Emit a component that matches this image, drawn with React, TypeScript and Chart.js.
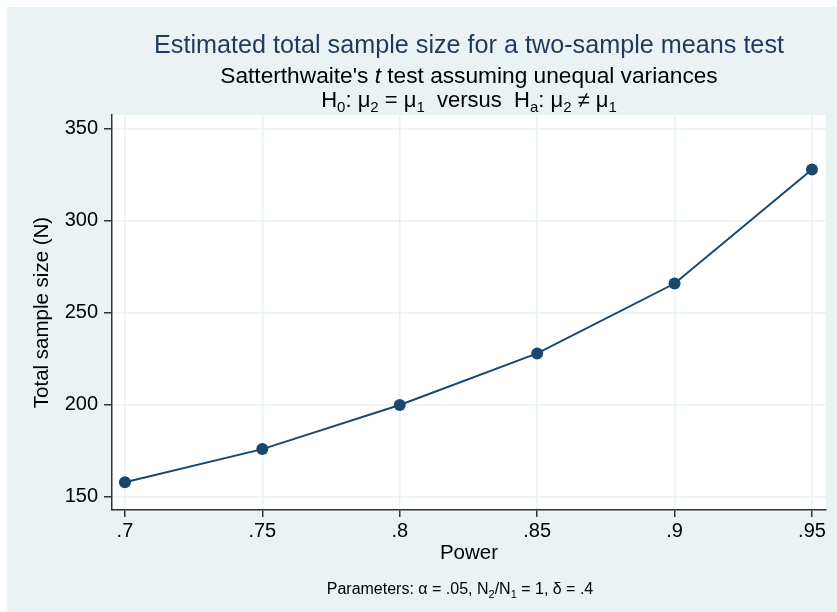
import React, { useEffect, useRef } from 'react';
import { Chart, registerables } from 'chart.js';
Chart.register(...registerables);

// ---- data ----
const power = [0.7, 0.75, 0.8, 0.85, 0.9, 0.95];
const totalSampleSize = [158, 176, 200, 228, 266, 328];
const xTickValues = [0.7, 0.75, 0.8, 0.85, 0.9, 0.95];
const xTickLabels = ['.7', '.75', '.8', '.85', '.9', '.95'];
const yTickValues = [150, 200, 250, 300, 350];
const yTickLabels = ['150', '200', '250', '300', '350'];

type Seg = { t: string; s?: 'i' | 'sub' };
const titleLine: Seg[] = [{ t: 'Estimated total sample size for a two-sample means test' }];
const subtitleLine1: Seg[] = [
  { t: "Satterthwaite's " }, { t: 't', s: 'i' }, { t: ' test assuming unequal variances' },
];
const subtitleLine2: Seg[] = [
  { t: 'H' }, { t: '0', s: 'sub' }, { t: ': μ' }, { t: '2', s: 'sub' }, { t: ' = μ' }, { t: '1', s: 'sub' },
  { t: '  versus  H' }, { t: 'a', s: 'sub' }, { t: ': μ' }, { t: '2', s: 'sub' }, { t: ' ≠ μ' }, { t: '1', s: 'sub' },
];
const noteLine: Seg[] = [
  { t: 'Parameters: α = .05, N' }, { t: '2', s: 'sub' }, { t: '/N' }, { t: '1', s: 'sub' }, { t: ' = 1, δ = .4' },
];
const xAxisTitle = 'Power';
const yAxisTitle = 'Total sample size (N)';

const FONT = "'Liberation Sans', Arial, Helvetica, sans-serif";
const BG = '#eaf2f3';
const NAVY = '#1a476f';

function segFont(size: number, s?: string) {
  if (s === 'i') return `italic ${size}px ${FONT}`;
  if (s === 'sub') return `${Math.round(size * 0.68)}px ${FONT}`;
  return `${size}px ${FONT}`;
}

function drawRich(ctx: CanvasRenderingContext2D, segs: Seg[], cx: number, y: number, size: number, color: string) {
  ctx.save();
  ctx.fillStyle = color;
  ctx.textBaseline = 'alphabetic';
  ctx.textAlign = 'left';
  let total = 0;
  const widths = segs.map((sg) => {
    ctx.font = segFont(size, sg.s);
    const w = ctx.measureText(sg.t).width;
    total += w;
    return w;
  });
  let x = cx - total / 2;
  segs.forEach((sg, i) => {
    ctx.font = segFont(size, sg.s);
    const dy = sg.s === 'sub' ? size * 0.24 : 0;
    ctx.fillText(sg.t, x, y + dy);
    x += widths[i];
  });
  ctx.restore();
}

const framePlugin = {
  id: 'frame',
  beforeDraw(chart: any) {
    const { ctx, chartArea: a } = chart;
    ctx.save();
    ctx.fillStyle = BG;
    ctx.fillRect(0, 0, chart.width, chart.height);
    ctx.fillStyle = '#ffffff';
    ctx.fillRect(a.left, a.top, a.right - a.left, a.bottom - a.top);
    ctx.restore();
  },
  afterDraw(chart: any) {
    const { ctx, chartArea: a } = chart;
    const cx = (a.left + a.right) / 2;
    drawRich(ctx, titleLine, cx, 45.5, 25.2, '#1e3a5f');
    drawRich(ctx, subtitleLine1, cx, 76.3, 22.7, '#000');
    drawRich(ctx, subtitleLine2, cx, 99.5, 22, '#000');
    drawRich(ctx, noteLine, cx - 9, 587, 16, '#000');
  },
};

export default function App() {
  const ref = useRef<HTMLCanvasElement | null>(null);
  useEffect(() => {
    if (!ref.current) return;
    const tickFont = { family: FONT, size: 20 };
    const axisTitleFont = { family: FONT, size: 20.5 };
    const chart = new Chart(ref.current, {
      type: 'line',
      data: {
        datasets: [
          {
            data: power.map((p, i) => ({ x: p, y: totalSampleSize[i] })),
            borderColor: NAVY,
            backgroundColor: NAVY,
            borderWidth: 2,
            pointRadius: 6,
            pointBackgroundColor: NAVY,
            pointBorderWidth: 0,
            tension: 0,
          },
        ],
      },
      options: {
        animation: false,
        responsive: false,
        devicePixelRatio: 1,
        layout: { padding: { top: 108, right: 11, left: 0, bottom: 0 } },
        plugins: { legend: { display: false }, tooltip: { enabled: false }, title: { display: false } },
        scales: {
          x: {
            type: 'linear',
            min: 0.6953,
            max: 0.9551,
            afterBuildTicks: (axis: any) => {
              axis.ticks = xTickValues.map((v) => ({ value: v }));
            },
            afterFit: (scale: any) => {
              scale.height = 102;
            },
            ticks: {
              font: tickFont,
              color: '#000',
              padding: 2,
              maxRotation: 0,
              autoSkip: false,
              callback: (v: any) => {
                const i = xTickValues.findIndex((t) => Math.abs(t - Number(v)) < 1e-9);
                return i >= 0 ? xTickLabels[i] : '';
              },
            },
            grid: { color: BG, lineWidth: 1.5, tickColor: '#333', tickLength: 7, tickWidth: 1.5 },
            border: { display: true, color: '#333', width: 1.5 },
            title: { display: true, text: xAxisTitle, font: axisTitleFont, color: '#000', padding: { top: 0, bottom: 46.5 } },
          },
          y: {
            type: 'linear',
            min: 142.9,
            max: 357.6,
            afterBuildTicks: (axis: any) => {
              axis.ticks = yTickValues.map((v) => ({ value: v }));
            },
            afterFit: (scale: any) => {
              scale.width = 105;
            },
            ticks: {
              font: tickFont,
              color: '#000',
              padding: 6,
              autoSkip: false,
              callback: (v: any) => {
                const i = yTickValues.findIndex((t) => Math.abs(t - Number(v)) < 1e-9);
                return i >= 0 ? yTickLabels[i] : '';
              },
            },
            grid: { color: BG, lineWidth: 1.5, tickColor: '#333', tickLength: 8, tickWidth: 1.5 },
            border: { display: true, color: '#333', width: 1.5 },
            title: { display: true, text: yAxisTitle, font: axisTitleFont, color: '#000', padding: { top: 23.5, bottom: 0 } },
          },
        },
      },
      plugins: [framePlugin],
    } as any);
    return () => chart.destroy();
  }, []);
  return (
    <div style={{ position: 'absolute', left: 0, top: 0, width: 837, height: 612, background: '#fff' }}>
      <canvas ref={ref} width={830} height={605} style={{ position: 'absolute', left: 7, top: 7, width: 830, height: 605 }} />
    </div>
  );
}
